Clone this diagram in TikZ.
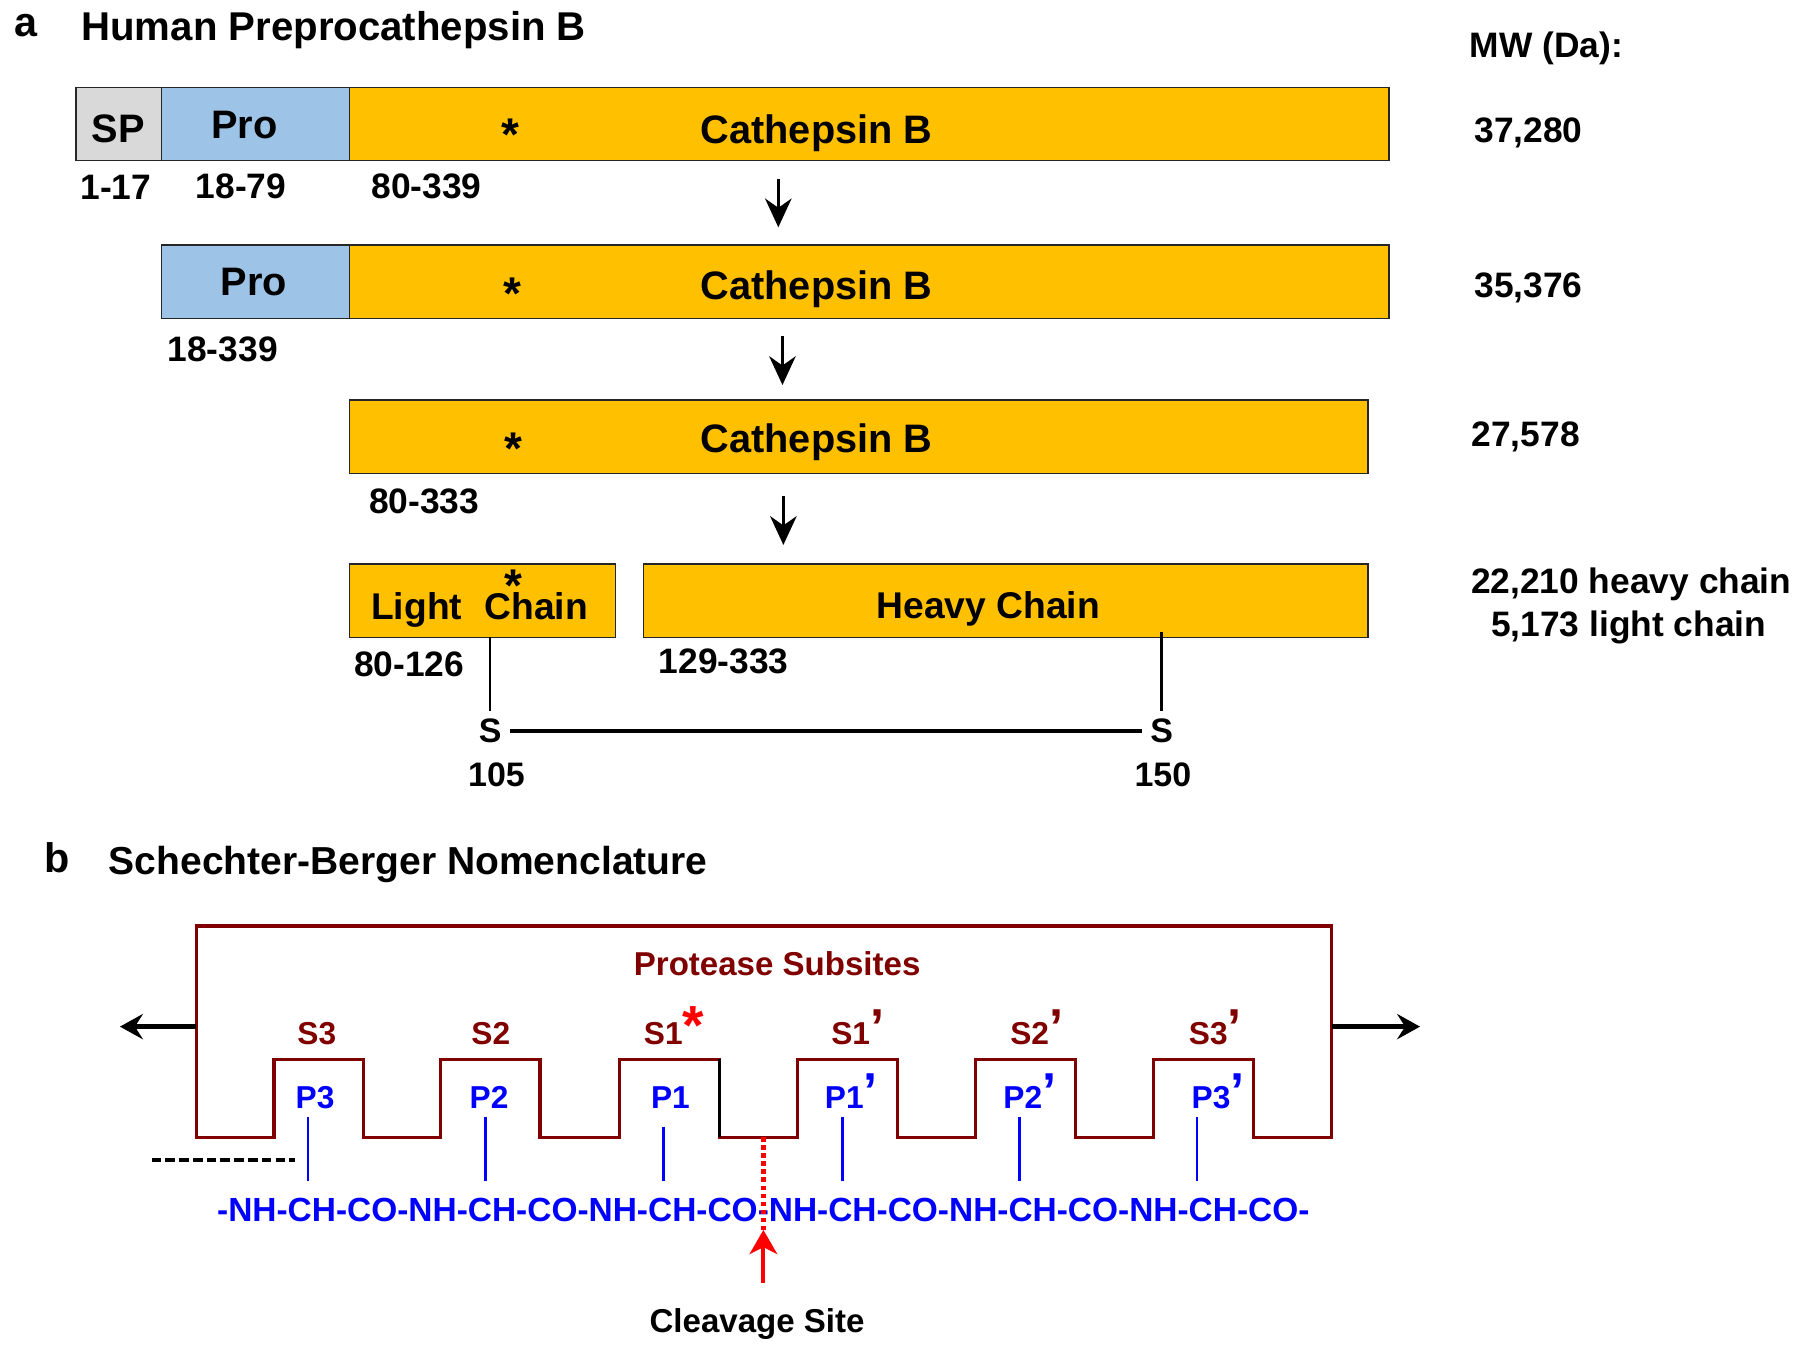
\documentclass[tikz,border=0pt]{standalone}
\usepackage{fontspec}
\setmainfont{Liberation Sans}
\usetikzlibrary{arrows.meta}
\newcommand{\fsz}[1]{\fontsize{#1}{#1}\selectfont}
\newcommand{\prm}{\rlap{\fsz{22}’}}
\definecolor{cborange}{HTML}{FFC000}
\definecolor{cbblue}{HTML}{9DC3E6}
\definecolor{cbgray}{HTML}{D9D9D9}
\definecolor{dred}{HTML}{800000}
\definecolor{pblue}{HTML}{0000FF}
\begin{document}
\begin{tikzpicture}[x=0.5pt,y=-0.5pt,
  bar/.style={draw=black!85, line width=0.6pt, inner sep=0pt, outer sep=0pt, anchor=north west, minimum height=32pt},
  t/.style={inner sep=0pt, anchor=base},
  tw/.style={inner sep=0pt, anchor=base west},
  fa/.style={font=\bfseries\fsz{18}},
  fbig/.style={font=\bfseries\fsz{17.3}},
  fstar/.style={inner sep=0pt, anchor=base, font=\bfseries\fsz{20}},
  fch/.style={font=\bfseries\fsz{16.2}},
  fnum/.style={font=\bfseries\fsz{15.4}},
  fss/.style={font=\bfseries\fsz{14.8}},
  fsb/.style={font=\bfseries\fsz{14.4}},
  fsite/.style={font=\bfseries\fsz{13.8}},
  snode/.style={inner sep=3.5pt, anchor=base, font=\bfseries\fsz{14.8}},
  downarr/.style={line width=1.5pt, -{Stealth[length=12.5pt,width=11.5pt,inset=4pt]}},
  sidearr/.style={line width=2.2pt, -{Stealth[length=10pt,width=11pt,inset=3.5pt]}},
  redarr/.style={red, line width=1.8pt, -{Stealth[length=10.5pt,width=12pt,inset=3pt]}},
  outline/.style={dred, line width=1.4pt, line join=miter},
  bline/.style={pblue, line width=1pt},
]
\useasboundingbox (0,0) rectangle (1568,1176);

% ---------- part a ----------
\node[tw,fa] (la) at (12,31.4) {a};
\node[tw,font=\bfseries\fsz{17.5}] (ttla) at (70.5,35.5) {Human Preprocathepsin B};
\node[tw,fnum] (mw) at (1280,50) {MW (Da):};

% row 1
\node[bar, fill=cbgray, minimum width=37.15pt] (sp) at (66.2,76) {};
\node[bar, fill=cbblue, minimum width=82.05pt] (pro1) at (140.5,76) {};
\node[bar, fill=cborange, minimum width=452.7pt] (cat1) at (304.6,76) {};
\node[t,fbig] (tsp) at (103,124) {SP};
\node[t,fbig] (tpro1) at (213,121) {Pro};
\node[fstar] (st1) at (445,131) {*};
\node[tw,fbig] (tcat1) at (610,125) {Cathepsin B};
\node[t,fnum] (r1) at (101,174) {1-17};
\node[t,fnum] (r2) at (210,172.7) {18-79};
\node[t,fnum] (r3) at (371.5,172.7) {80-339};
\node[tw,fnum] (mw1) at (1284,124.3) {37,280};

% row 2
\node[bar, fill=cbblue, minimum width=82.05pt] (pro2) at (140.5,213.4) {};
\node[bar, fill=cborange, minimum width=452.7pt] (cat2) at (304.6,213.4) {};
\node[t,fbig] (tpro2) at (221,257.5) {Pro};
\node[fstar] (st2) at (446,270) {*};
\node[tw,fbig] (tcat2) at (610,260.5) {Cathepsin B};
\node[t,fnum] (r4) at (194,315) {18-339};
\node[tw,fnum] (mw2) at (1284,259) {35,376};

% row 3
\node[bar, fill=cborange, minimum width=443.5pt] (cat3) at (304.6,348.4) {};
\node[fstar] (st3) at (447,405) {*};
\node[tw,fbig] (tcat3) at (610,394) {Cathepsin B};
\node[t,fnum] (r5) at (369.5,447) {80-333};
\node[tw,fnum] (mw3) at (1281.5,389) {27,578};

% row 4
\node[bar, fill=cborange, minimum width=115.7pt] (lc) at (304.6,491.3) {};
\node[bar, fill=cborange, minimum width=315.6pt] (hc) at (560.4,491.3) {};
\node[tw,fch] (tlc) at (323,540) {Light\hspace{9.8pt}Chain};
\node[fstar] (st4) at (447,512) {\raisebox{-6pt}[8pt][0pt]{*}};
\node[t,fch] (thc) at (861,539) {Heavy Chain};
\node[t,fnum] (r6) at (356.5,589.5) {80-126};
\node[t,fnum] (r7) at (630.5,586.5) {129-333};
\node[tw,fnum] (mw4) at (1281,517) {22,210 heavy chain};
\node[tw,fnum] (mw5) at (1298.5,554.6) {5,173 light chain};

% processing arrows
\coordinate (a1s) at (678,156); \coordinate (a1e) at (678,198);
\coordinate (a2s) at (681.6,293); \coordinate (a2e) at (681.6,335.4);
\coordinate (a3s) at (682.4,432); \coordinate (a3e) at (682.4,474.7);
\draw[downarr] (a1s) -- (a1e);
\draw[downarr] (a2s) -- (a2e);
\draw[downarr] (a3s) -- (a3e);

% disulfide
\node[snode] (s105) at (427,647) {S};
\node[snode] (s150) at (1012,647) {S};
\node[t,fss] (n105) at (432.5,684.7) {105};
\node[t,fss] (n150) at (1013,684.7) {150};
\draw[line width=1.1pt] (lc.south -| s105.north) -- (s105.north);
\draw[line width=1.1pt] ([yshift=2.3pt]hc.south -| s150.north) -- (s150.north);
\draw[line width=1.4pt] (s105.east) -- (s150.west);

% ---------- part b ----------
\node[tw,fa] (lb) at (38,760) {b};
\node[tw,font=\bfseries\fsz{17}] (ttlb) at (94.5,762) {Schechter-Berger Nomenclature};

\draw[outline] (171,990.7) -- (171,806.6) -- (1160,806.6) -- (1160,990.7)
  -- (1092,990.7) -- (1092,922.8) -- (1005,922.8) -- (1005,990.7)
  -- (936.9,990.7) -- (936.9,922.8) -- (849.7,922.8) -- (849.7,990.7)
  -- (781.6,990.7) -- (781.6,922.8) -- (694.6,922.8) -- (694.6,990.7)
  -- (626.6,990.7) -- (626.6,922.8) -- (539.5,922.8) -- (539.5,990.7)
  -- (470.4,990.7) -- (470.4,922.8) -- (384,922.8) -- (384,990.7)
  -- (316.6,990.7) -- (316.6,922.8) -- (238.7,922.8) -- (238.7,990.7) -- cycle;
\draw[black, line width=1.4pt] (626.6,922.8) -- (626.6,990.7);

\coordinate (lao) at (171,894.3); \coordinate (lae) at (104.5,894.3);
\coordinate (rao) at (1160,894.3); \coordinate (rae) at (1237,894.3);
\draw[sidearr] (lao) -- (lae);
\draw[sidearr] (rao) -- (rae);

\node[t,fsb,text=dred] (ps) at (677,850) {Protease Subsites};

\node[t,fsite,text=dred] (s3) at (276,910.3) {S3};
\node[t,fsite,text=dred] (s2) at (427.5,910.3) {S2};
\node[t,fsite,text=dred] (s1) at (577.8,910.3) {S1\rlap{\fsz{24}\textcolor{red}{*}}};
\node[t,fsite,text=dred] (s1p) at (741,910.3) {S1\prm};
\node[t,fsite,text=dred] (s2p) at (897,910.3) {S2\prm};
\node[t,fsite,text=dred] (s3p) at (1052.6,910.3) {S3\prm};

\node[t,fsite,text=pblue] (p3) at (274.5,965.5) {P3};
\node[t,fsite,text=pblue] (p2) at (426,965.5) {P2};
\node[t,fsite,text=pblue] (p1) at (584,965.5) {P1};
\node[t,fsite,text=pblue] (p1p) at (735.5,965.5) {P1\prm};
\node[t,fsite,text=pblue] (p2p) at (891,965.5) {P2\prm};
\node[t,fsite,text=pblue] (p3p) at (1055,965.5) {P3\prm};

\foreach \n/\x/\y in {3/268/972.7, 2/423/972.7, 1/578/981.4, 1p/734/972.7, 2p/888/972.7, 3p/1043/972.7}{
  \coordinate (lt\n) at (\x,\y);
  \coordinate (lb\n) at (\x,1029);
  \draw[bline] (lt\n) -- (lb\n);
}

\coordinate (dsh1) at (132,1010.5); \coordinate (dsh2) at (257,1010.5);
\draw[black, line width=1.5pt, dash pattern=on 4.2pt off 1.8pt] (dsh1) -- (dsh2);

\node[t,font=\bfseries\fsz{14.57},text=pblue] (seq) at (665,1064) {-NH-CH-CO-NH-CH-CO-NH-CH-CO-NH-CH-CO-NH-CH-CO-NH-CH-CO-};

\coordinate (cut1) at (665,990.7); \coordinate (cut2) at (665,1071.4); \coordinate (cut3) at (665,1117.3);
\draw[red, line width=2pt, dash pattern=on 2pt off 1.5pt] (cut1) -- (cut2);
\draw[redarr] (cut3) -- (cut2);

\node[t,fsb] (cl) at (659.5,1161) {Cleavage Site};
\end{tikzpicture}
\end{document}
